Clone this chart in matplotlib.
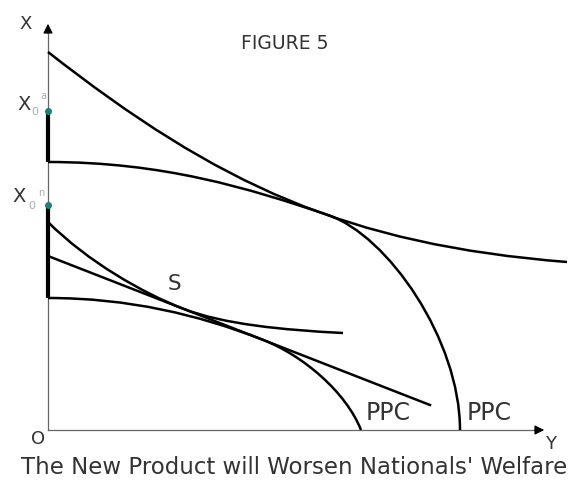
import matplotlib
matplotlib.use("Agg")
import matplotlib.pyplot as plt
from matplotlib.path import Path
from matplotlib.patches import PathPatch

# chart units: origin O, 1 unit ~ 1 pixel of the reference
big_ppc = [(0, 268), (115, 268), (200, 242), (280, 215),
           (340, 194.6), (412, 90), (412, 0)]
big_ic = [(0, 378), (170, 245), (299, 185.6), (519, 168)]
small_ppc = [(0, 132), (80, 132), (150, 115.5), (215, 90.15),
             (255, 74.55), (298, 38), (313, 0)]
small_ic = [(0, 208), (40, 168), (95, 136.95), (135, 121.35),
            (175, 105.75), (235, 100), (295, 97)]
price_line_x = [0, 382]
price_line_y = [174, 25]

endowment_a = (319, 268)   # thick segment on the X axis, big country
endowment_n = (225, 132)   # thick segment on the X axis, small country

plt.rcParams.update({"font.family": ["DejaVu Sans"]})
fig = plt.figure(figsize=(5.76, 4.83), dpi=100)
ax = fig.add_axes([0, 0, 1, 1])
ax.set_xlim(-48, 528)
ax.set_ylim(-53, 430)
ax.axis("off")


def bezier(points, lw=1.8):
    codes = [Path.MOVETO] + [Path.CURVE4] * (len(points) - 1)
    ax.add_patch(PathPatch(Path(points, codes), fill=False, lw=lw,
                           color="black", capstyle="butt", zorder=3))


# axes with arrow heads
ax.plot([0, 0], [0, 396], color="#666666", lw=0.9, zorder=1)
ax.plot([0, 486], [0, 0], color="#666666", lw=0.9, zorder=1)
ax.annotate("", xy=(0, 409), xytext=(0, 394),
            arrowprops=dict(arrowstyle="-|>", color="black", lw=0.9, mutation_scale=14))
ax.annotate("", xy=(499, 0), xytext=(484, 0),
            arrowprops=dict(arrowstyle="-|>", color="black", lw=0.9, mutation_scale=14))

for curve in (big_ppc, big_ic, small_ppc, small_ic):
    bezier(curve)
ax.plot(price_line_x, price_line_y, color="black", lw=1.8, zorder=3)

ax.plot([0, 0], endowment_a, color="black", lw=3.0, solid_capstyle="butt", zorder=4)
ax.plot([0, 0], endowment_n, color="black", lw=3.0, solid_capstyle="butt", zorder=4)
ax.plot([0, 0], [endowment_a[0], endowment_n[0]], "o", color="#1b7f7a",
        ms=4, zorder=5)

txt = dict(color="#333333", ha="center", va="center")
sub = dict(color="#aaaaaa", ha="center", va="center")
ax.text(-22, 406, "X", fontsize=13, **txt)
ax.text(503, -14, "Y", fontsize=13, **txt)
ax.text(-10, -9, "O", fontsize=13, **txt)
ax.text(237, 386.5, "FIGURE 5", fontsize=13.5, **txt)
ax.text(-24, 326, "X", fontsize=14, **txt)
ax.text(-13, 318, "0", fontsize=8, **sub)
ax.text(-4.5, 334, "a", fontsize=7, **sub)
ax.text(-29, 233, "X", fontsize=14, **txt)
ax.text(-16.5, 224, "0", fontsize=8, **sub)
ax.text(-6.5, 236.5, "n", fontsize=7, **sub)
ax.text(126.5, 146, "S", fontsize=15.5, **txt)
ax.text(340.5, 16.5, "PPC", fontsize=17, **txt)
ax.text(441, 16.5, "PPC", fontsize=17, **txt)
ax.text(246.5, -44.3, "The New Product will Worsen Nationals' Welfare",
        fontsize=16.5, color="#333333", ha="center", va="baseline")

fig.savefig("out.png", dpi=100, facecolor="white")
